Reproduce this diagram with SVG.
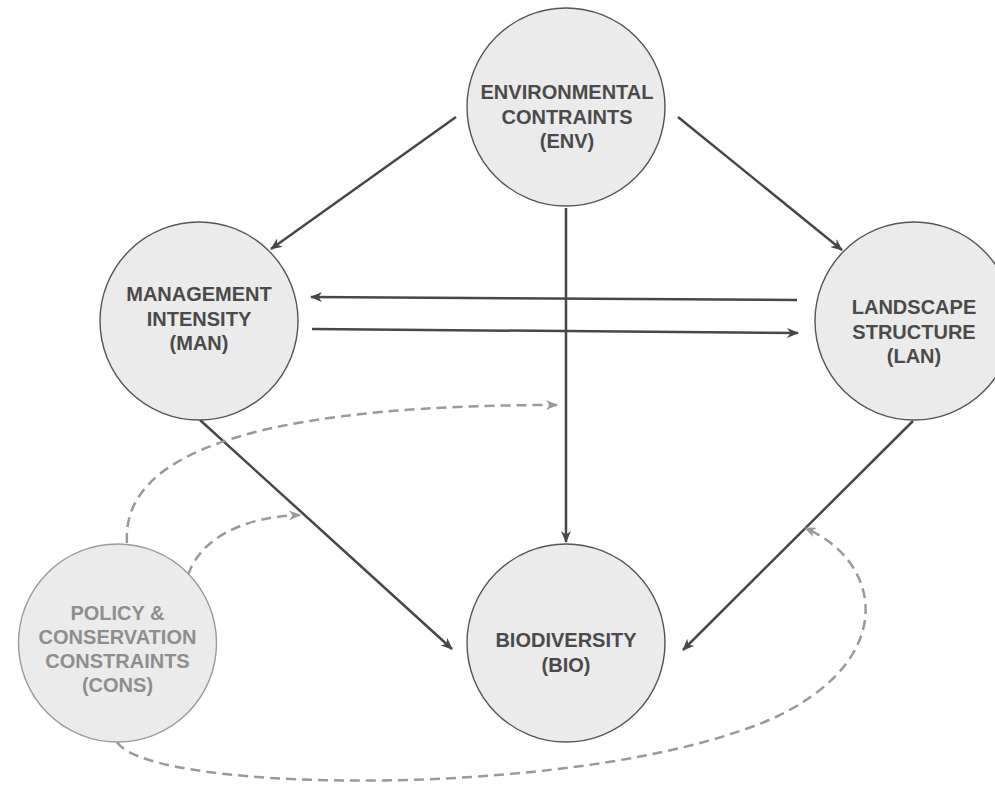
<svg xmlns="http://www.w3.org/2000/svg" width="995" height="785" viewBox="0 0 995 785">
<defs>
<style>
.node circle{fill:#ebebeb;stroke:#555;stroke-width:1.4}
.node text{font-family:"Liberation Sans",Arial,sans-serif;font-weight:bold;font-size:20px;fill:#4a4a4a;text-anchor:middle}
#cons circle{stroke:#9a9a9a}
#cons text{fill:#8e8e8e}
.solid{fill:none;stroke:#474747;stroke-width:2.5;marker-end:url(#ah)}
.dash{fill:none;stroke:#9a9a9a;stroke-width:2.5;stroke-dasharray:10 6;marker-end:url(#ahd)}
</style>
<marker id="ah" viewBox="0 0 12 10" refX="11" refY="5" markerWidth="12" markerHeight="10" markerUnits="userSpaceOnUse" orient="auto">
<path d="M0,0 L12,5 L0,10 L3.5,5 Z" fill="#474747"/>
</marker>
<marker id="ahd" viewBox="0 0 12 10" refX="11" refY="5" markerWidth="12" markerHeight="10" markerUnits="userSpaceOnUse" orient="auto">
<path d="M0,0 L12,5 L0,10 L3.5,5 Z" fill="#9a9a9a"/>
</marker>
</defs>
<rect width="995" height="785" fill="#ffffff"/>
<g id="connectors">
<line class="solid" x1="456" y1="117" x2="271" y2="249"/>
<line class="solid" x1="678" y1="117" x2="842" y2="250"/>
<line class="solid" x1="566" y1="208" x2="566" y2="542"/>
<line class="solid" x1="797" y1="300" x2="311" y2="297"/>
<line class="solid" x1="312" y1="329" x2="798" y2="333"/>
<line class="solid" x1="200" y1="420" x2="452" y2="649"/>
<line class="solid" x1="913" y1="421" x2="683" y2="650"/>
<path class="dash" d="M127,543 C120,440 300,405 557,405"/>
<path class="dash" d="M188,575 C200,540 240,517 300,515"/>
<path class="dash" d="M117,742 C150,795 600,800 780,715 C900,655 880,560 805,528"/>
</g>
<g id="env" class="node">
<circle cx="566" cy="107" r="99"/>
<text x="567" y="99">ENVIRONMENTAL</text>
<text x="567" y="123.5">CONTRAINTS</text>
<text x="567" y="148">(ENV)</text>
</g>
<g id="man" class="node">
<circle cx="199" cy="321" r="99"/>
<text x="199" y="301">MANAGEMENT</text>
<text x="199" y="325.5">INTENSITY</text>
<text x="199" y="350">(MAN)</text>
</g>
<g id="lan" class="node">
<circle cx="914" cy="321" r="99"/>
<text x="914" y="314">LANDSCAPE</text>
<text x="914" y="338.5">STRUCTURE</text>
<text x="914" y="363">(LAN)</text>
</g>
<g id="cons" class="node">
<circle cx="117.5" cy="643" r="99"/>
<text x="117.5" y="620">POLICY &amp;</text>
<text x="117.5" y="644">CONSERVATION</text>
<text x="117.5" y="668">CONSTRAINTS</text>
<text x="117.5" y="692">(CONS)</text>
</g>
<g id="bio" class="node">
<circle cx="566" cy="643" r="99"/>
<text x="566" y="647">BIODIVERSITY</text>
<text x="566" y="672">(BIO)</text>
</g>
</svg>
